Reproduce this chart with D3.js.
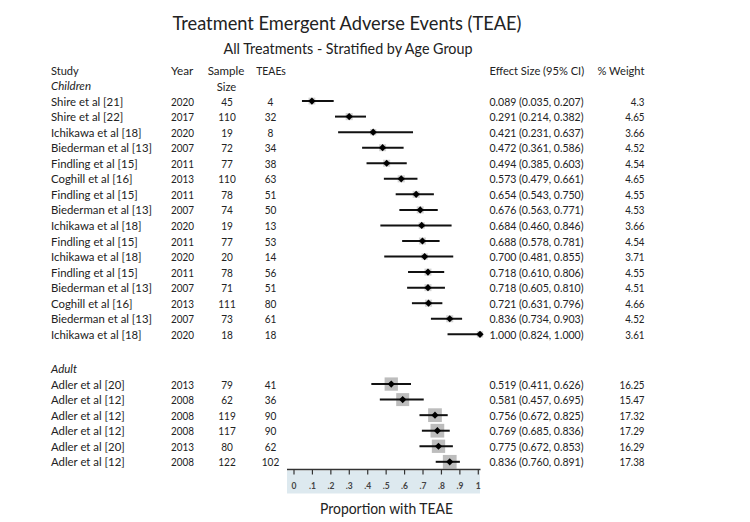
<!DOCTYPE html>
<html><head><meta charset="utf-8">
<script src="https://cdn.jsdelivr.net/npm/d3@7"></script>
<style>body{margin:0;background:#fff}svg{display:block}text{font-family:Lato,"Open Sans",sans-serif;fill:#222}</style>
</head><body><svg id="c" width="750" height="522"></svg>
<script>
const title = "Treatment Emergent Adverse Events (TEAE)";
const subtitle = "All Treatments - Stratified by Age Group";
const xLabel = "Proportion with TEAE";
const groups = ["Children", "Adult"];
const studies = ["Shire et al [21]","Shire et al [22]","Ichikawa et al [18]","Biederman et al [13]","Findling et al [15]","Coghill et al [16]","Findling et al [15]","Biederman et al [13]","Ichikawa et al [18]","Findling et al [15]","Ichikawa et al [18]","Findling et al [15]","Biederman et al [13]","Coghill et al [16]","Biederman et al [13]","Ichikawa et al [18]",
 "Adler et al [20]","Adler et al [12]","Adler et al [12]","Adler et al [12]","Adler et al [20]","Adler et al [12]"];
const studyGroup = [0,0,0,0,0,0,0,0,0,0,0,0,0,0,0,0,1,1,1,1,1,1];
const years = [2020,2017,2020,2007,2011,2013,2011,2007,2020,2011,2020,2011,2007,2013,2007,2020,2013,2008,2008,2008,2013,2008];
const samples = [45,110,19,72,77,110,78,74,19,77,20,78,71,111,73,18,79,62,119,117,80,122];
const teaes = [4,32,8,34,38,63,51,50,13,53,14,56,51,80,61,18,41,36,90,90,62,102];
const effect = [0.089,0.291,0.421,0.472,0.494,0.573,0.654,0.676,0.684,0.688,0.700,0.718,0.718,0.721,0.836,1.000,0.519,0.581,0.756,0.769,0.775,0.836];
const ciLow = [0.035,0.214,0.231,0.361,0.385,0.479,0.543,0.563,0.460,0.578,0.481,0.610,0.605,0.631,0.734,0.824,0.411,0.457,0.672,0.685,0.672,0.760];
const ciHigh = [0.207,0.382,0.637,0.586,0.603,0.661,0.750,0.771,0.846,0.781,0.855,0.806,0.810,0.796,0.903,1.000,0.626,0.695,0.825,0.836,0.853,0.891];
const weights = ["4.3","4.65","3.66","4.52","4.54","4.65","4.55","4.53","3.66","4.54","3.71","4.55","4.51","4.66","4.52","3.61","16.25","15.47","17.32","17.29","16.29","17.38"];
const ticks = [0,0.1,0.2,0.3,0.4,0.5,0.6,0.7,0.8,0.9,1];
const tickLabels = ["0",".1",".2",".3",".4",".5",".6",".7",".8",".9","1"];

const svg = d3.select("#c");
const x = d3.scaleLinear().domain([0,1]).range([295.5,480]);
const f3 = d3.format(".3f");

// squeeze a column of texts by the factor that makes its sample element reach the target width
function fitColumn(sel, sampleIdx, target) {
  const nodes = sel.nodes();
  const k = Math.min(1, target / nodes[sampleIdx].getComputedTextLength());
  nodes.forEach(n => {
    const w = n.getComputedTextLength();
    d3.select(n).attr("textLength", w * k).attr("lengthAdjust", "spacingAndGlyphs");
  });
}

// row layout
const rowY = [];
const groupY = [];
let y = 85.5;
const step = 15.55;
groups.forEach((g, gi) => {
  if (gi > 0) y += step * 1.2;
  groupY.push(y);
  y += step;
  studies.forEach((s, i) => { if (studyGroup[i] === gi) { rowY[i] = y; y += step; } });
});

const fs = 11.8;
const t1 = svg.append("text").attr("x",347).attr("y",23).attr("text-anchor","middle").attr("dominant-baseline","central")
  .style("font-size","18.3px").text(title);
fitColumn(t1, 0, 349);
const t2 = svg.append("text").attr("x",348).attr("y",48).attr("text-anchor","middle").attr("dominant-baseline","central")
  .style("font-size","14.4px").text(subtitle);
fitColumn(t2, 0, 249);

const hdr = svg.append("g").style("font-size",fs+"px");
const hdrDefs = [
  ["Study",51,70,"start",27.7],["Year",171,70,"start",22.3],["Sample",226,70,"middle",36.7],
  ["Size",226.5,86,"middle",19.5],["TEAEs",271,70,"middle",29.7],
  ["Effect Size (95% CI)",489.5,70,"start",94.7],["% Weight",644.5,70,"end",47]];
hdrDefs.forEach(h => {
  const t = hdr.append("text").attr("x",h[1]).attr("y",h[2]).attr("text-anchor",h[3]).attr("dominant-baseline","central").text(h[0]);
  fitColumn(t, 0, h[4]);
});

const gl = svg.append("g").style("font-size",fs+"px").style("font-style","italic")
  .selectAll("text").data(groups).join("text")
  .attr("x",51).attr("y",(d,i)=>groupY[i]).attr("dominant-baseline","central").text(d=>d);
fitColumn(gl, 0, 40);

const rows = svg.append("g").style("font-size",fs+"px").selectAll("g").data(studies).join("g")
  .attr("transform",(d,i)=>`translate(0,${rowY[i]})`);
fitColumn(rows.append("text").attr("x",51).attr("dominant-baseline","central").text(d=>d), 3, 101);
fitColumn(rows.append("text").attr("x",182.5).attr("text-anchor","middle").attr("dominant-baseline","central").text((d,i)=>years[i]), 0, 23);
fitColumn(rows.append("text").attr("x",227).attr("text-anchor","middle").attr("dominant-baseline","central").text((d,i)=>samples[i]), 1, 17.5);
fitColumn(rows.append("text").attr("x",270.5).attr("text-anchor","middle").attr("dominant-baseline","central").text((d,i)=>teaes[i]), 1, 11.7);
fitColumn(rows.append("text").attr("x",489.5).attr("dominant-baseline","central")
  .text((d,i)=>`${f3(effect[i])} (${f3(ciLow[i])}, ${f3(ciHigh[i])})`), 0, 94);
fitColumn(rows.append("text").attr("x",644.5).attr("text-anchor","end").attr("dominant-baseline","central").text((d,i)=>weights[i]), 16, 25);

// weight boxes
const wsize = d3.scaleSqrt().domain([0,18]).range([0,14]);
rows.append("rect")
  .attr("x",(d,i)=>x(effect[i]) - wsize(+weights[i])/2)
  .attr("y",(d,i)=>-wsize(+weights[i])/2)
  .attr("width",(d,i)=>wsize(+weights[i]))
  .attr("height",(d,i)=>wsize(+weights[i]))
  .attr("fill",(d,i)=>studyGroup[i] ? "#bdbdbd" : "#d4d4d4");
rows.append("line")
  .attr("x1",(d,i)=>x(ciLow[i])).attr("x2",(d,i)=>x(ciHigh[i]))
  .attr("stroke","#111").attr("stroke-width",2);
rows.append("path")
  .attr("d",(d,i)=>{const cx=x(effect[i]), r=3.6; return `M${cx-r},0L${cx},${-r}L${cx+r},0L${cx},${r}Z`;})
  .attr("fill","#000");

// axis
const axY = 469.5;
svg.append("rect").attr("x",287).attr("y",axY+1).attr("width",193).attr("height",23).attr("fill","#dde9ef");
svg.append("line").attr("x1",287).attr("x2",480.5).attr("y1",axY).attr("y2",axY).attr("stroke","#333").attr("stroke-width",1.5);
const ax = d3.scaleLinear().domain([0,1]).range([294,478.3]);
svg.append("g").selectAll("line").data(ticks).join("line")
  .attr("x1",d=>ax(d)).attr("x2",d=>ax(d)).attr("y1",axY).attr("y2",axY+5)
  .attr("stroke","#333").attr("stroke-width",1.2);
svg.append("g").style("font-size","8.5px").style("font-weight","bold").selectAll("text").data(ticks).join("text")
  .attr("x",d=>ax(d)).attr("y",axY+16).attr("text-anchor","middle").attr("dominant-baseline","central")
  .style("fill","#444").text((d,i)=>tickLabels[i]);
const xl = svg.append("text").attr("x",386.5).attr("y",508).attr("text-anchor","middle").attr("dominant-baseline","central")
  .style("font-size","14.4px").text(xLabel);
fitColumn(xl, 0, 133);
</script></body></html>
